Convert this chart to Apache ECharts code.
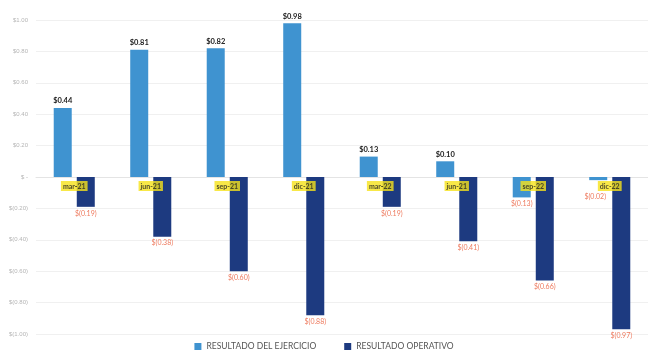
<!DOCTYPE html>
<html>
<head>
<meta charset="utf-8">
<script src="https://cdn.jsdelivr.net/npm/echarts@6/dist/echarts.min.js"></script>
<style>
  html, body { margin: 0; padding: 0; background: #fff; }
  #chart { width: 648px; height: 356px; }
</style>
</head>
<body>
<div id="chart"></div>
<script>
// Quarterly results per share
const categories = ['mar-21', 'jun-21', 'sep-21', 'dic-21', 'mar-22', 'jun-21', 'sep-22', 'dic-22'];
const resultadoEjercicio = [0.44, 0.81, 0.82, 0.98, 0.13, 0.10, -0.13, -0.02];
const resultadoOperativo = [-0.19, -0.38, -0.60, -0.88, -0.19, -0.41, -0.66, -0.97];
const seriesNames = ['RESULTADO DEL EJERCICIO', 'RESULTADO OPERATIVO'];
const yTicks = [-1, -0.8, -0.6, -0.4, -0.2, 0, 0.2, 0.4, 0.6, 0.8, 1];

function money(v) {
  if (Math.abs(v) < 1e-9) return '$ -';
  const s = Math.abs(v).toFixed(2);
  return v < 0 ? '$(' + s + ')' : '$' + s;
}

const font = 'Lato, "Liberation Sans", sans-serif';

const valueLabel = {
  show: true,
  fontFamily: font,
  formatter: p => money(p.value),
  distance: 3
};

function labelFor(v) {
  if (v < 0) {
    // very short bars push their label clear of the period tag
    return { position: 'bottom', color: '#ee7a5e', fontSize: 7, fontWeight: 'normal',
             distance: Math.abs(v) < 0.05 ? 13 : 3, offset: Math.abs(v) < 0.05 ? [-3, 0] : [0, 0] };
  }
  return { position: 'top', color: '#222', fontSize: 7.5, fontWeight: 'bold' };
}

function toData(arr) {
  return arr.map(v => ({ value: v, label: labelFor(v) }));
}

const chart = echarts.init(document.getElementById('chart'));
chart.setOption({
  animation: false,
  backgroundColor: '#fff',
  grid: { left: 36, width: 623, top: 20, bottom: 22, containLabel: false },
  legend: {
    bottom: 0,
    left: 'center',
    itemWidth: 7,
    itemHeight: 7,
    itemGap: 28,
    icon: 'rect',
    textStyle: { color: '#555', fontSize: 8.5, fontFamily: font },
    data: seriesNames
  },
  xAxis: {
    type: 'category',
    data: categories,
    axisLine: { onZero: true, lineStyle: { color: '#e4e4e4' } },
    axisTick: { show: false },
    axisLabel: { show: false }
  },
  yAxis: {
    type: 'value',
    min: yTicks[0],
    max: yTicks[yTicks.length - 1],
    interval: 0.2,
    axisLine: { show: false },
    axisTick: { show: false },
    splitLine: { lineStyle: { color: '#f0f0f0' } },
    axisLabel: {
      color: '#b5b5b5',
      fontSize: 6,
      margin: 8,
      fontFamily: '"Liberation Sans", sans-serif',
      formatter: v => money(v)
    }
  },
  series: [
    {
      name: seriesNames[0],
      type: 'bar',
      barWidth: 18,
      barGap: '28%',
      itemStyle: { color: '#3f93d0' },
      label: valueLabel,
      data: toData(resultadoEjercicio)
    },
    {
      name: seriesNames[1],
      type: 'bar',
      barWidth: 18,
      barGap: '28%',
      itemStyle: { color: '#1d3a80' },
      label: valueLabel,
      data: toData(resultadoOperativo)
    },
    {
      // Highlighted period tags sitting just under the zero line
      name: 'periodos',
      type: 'scatter',
      symbolSize: 0,
      z: 10,
      silent: true,
      data: categories.map((c, i) => [i, 0]),
      label: {
        show: true,
        position: 'bottom',
        distance: 4,
        formatter: p => categories[p.dataIndex],
        color: '#222',
        fontSize: 7,
        fontWeight: 'bold',
        fontFamily: font,
        backgroundColor: '#f6e21a',
        padding: [2, 2, 1, 2]
      }
    }
  ]
});
</script>
</body>
</html>
